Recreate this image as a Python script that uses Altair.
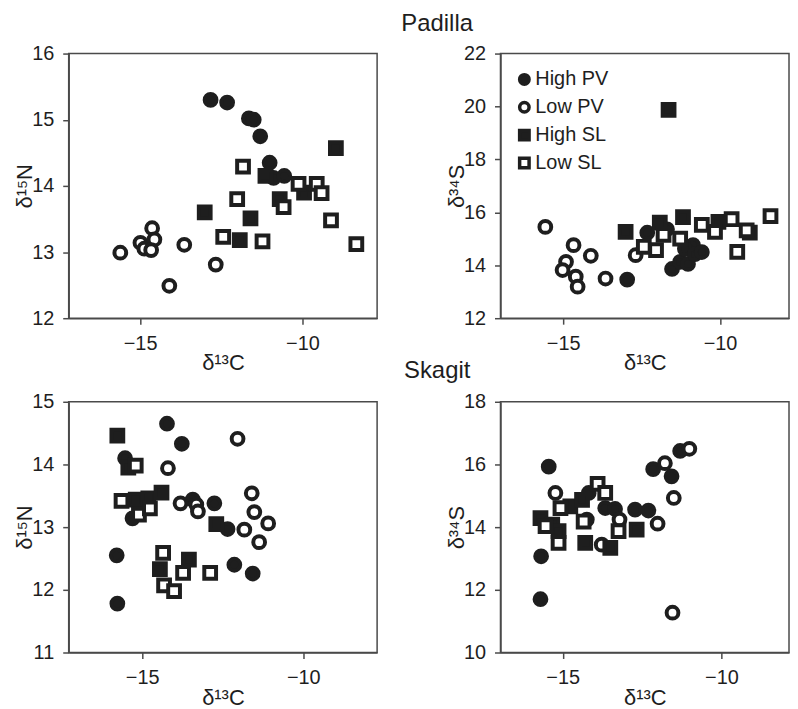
import altair as alt
import pandas as pd

INK = "#1e1e1e"
FRAME = "#4a4a4a"
FONT = "Liberation Sans"

GROUPS = ["High PV", "Low PV", "High SL", "Low SL"]
SHAPES = ["circle", "circle", "square", "square"]
FILLS = [INK, "white", INK, "white"]

# ---------------- Padilla: d15N vs d13C ----------------
pn_hpv_x = [-12.83, -12.32, -11.65, -11.50, -11.30, -11.01, -10.89, -10.56]
pn_hpv_y = [15.30, 15.26, 15.02, 15.00, 14.75, 14.35, 14.12, 14.15]
pn_lpv_x = [-15.61, -14.99, -14.87, -14.63, -14.56, -14.66, -13.64, -14.10, -12.67]
pn_lpv_y = [12.99, 13.14, 13.05, 13.36, 13.19, 13.03, 13.11, 12.49, 12.81]
pn_hsl_x = [-13.01, -11.60, -11.93, -11.14, -10.70, -9.95, -8.97]
pn_hsl_y = [13.60, 13.51, 13.18, 14.15, 13.80, 13.90, 14.57]
pn_lsl_x = [-11.83, -12.01, -12.44, -11.23, -10.58, -10.12, -9.56, -9.41, -9.12, -8.34]
pn_lsl_y = [14.29, 13.80, 13.23, 13.16, 13.68, 14.03, 14.03, 13.89, 13.48, 13.12]

# ---------------- Padilla: d34S vs d13C ----------------
ps_hpv_x = [-12.96, -12.32, -11.69, -11.53, -11.27, -11.02, -10.86, -11.12, -10.80, -10.58]
ps_hpv_y = [13.46, 15.23, 15.36, 13.86, 14.13, 14.05, 14.76, 14.62, 14.42, 14.50]
ps_lpv_x = [-15.57, -14.67, -14.12, -14.91, -15.02, -14.60, -14.54, -13.65, -12.69]
ps_lpv_y = [15.45, 14.76, 14.36, 14.13, 13.82, 13.57, 13.19, 13.50, 14.38]
ps_hsl_x = [-13.01, -11.64, -11.92, -11.18, -10.05, -9.05]
ps_hsl_y = [15.26, 19.87, 15.61, 15.82, 15.64, 15.23]
ps_lsl_x = [-12.43, -12.04, -11.80, -11.27, -10.58, -10.16, -9.63, -9.15, -9.45, -8.39]
ps_lsl_y = [14.70, 14.57, 15.15, 15.01, 15.53, 15.26, 15.74, 15.32, 14.51, 15.86]

# ---------------- Skagit: d15N vs d13C ----------------
sn_hpv_x = [-15.53, -14.23, -13.77, -15.30, -15.79, -15.77, -13.43, -12.76, -12.35, -12.14, -11.57]
sn_hpv_y = [14.10, 14.65, 14.33, 13.14, 12.55, 11.78, 13.44, 13.38, 12.97, 12.40, 12.26]
sn_lpv_x = [-12.04, -14.20, -13.81, -13.32, -13.27, -11.60, -11.52, -11.09, -11.83, -11.37]
sn_lpv_y = [14.41, 13.94, 13.38, 13.36, 13.25, 13.54, 13.24, 13.06, 12.96, 12.76]
sn_hsl_x = [-15.77, -15.43, -15.20, -14.81, -14.40, -14.45, -13.55, -12.70]
sn_hsl_y = [14.46, 13.95, 13.44, 13.46, 13.55, 12.33, 12.48, 13.05]
sn_lsl_x = [-15.20, -15.64, -15.10, -14.76, -14.35, -14.32, -14.01, -13.73, -12.89]
sn_lsl_y = [13.98, 13.42, 13.20, 13.30, 12.59, 12.07, 11.98, 12.27, 12.27]

# ---------------- Skagit: d34S vs d13C ----------------
ss_hpv_x = [-15.44, -15.68, -15.70, -14.18, -13.66, -13.35, -12.72, -12.30, -12.15, -11.57, -11.30]
ss_hpv_y = [15.93, 13.07, 11.70, 15.09, 14.61, 14.58, 14.56, 14.53, 15.85, 15.62, 16.43]
ss_lpv_x = [-15.23, -14.24, -13.77, -13.21, -12.01, -11.78, -11.50, -11.54, -11.01]
ss_lpv_y = [15.09, 14.24, 13.44, 14.24, 14.11, 16.04, 14.93, 11.27, 16.50]
ss_hsl_x = [-15.70, -15.33, -15.13, -14.76, -14.39, -14.29, -13.50, -12.67]
ss_hsl_y = [14.29, 14.08, 13.87, 14.66, 14.87, 13.50, 13.34, 13.92]
ss_lsl_x = [-15.54, -15.13, -15.07, -14.34, -13.90, -13.66, -13.24]
ss_lsl_y = [14.03, 13.50, 14.61, 14.18, 15.38, 15.09, 13.87]


def frame(series):
    rows = []
    for gi, (g, xs, ys) in enumerate(series):
        for x, y in zip(xs, ys):
            rows.append({"c": x, "v": y, "group": g, "ord": gi})
    return pd.DataFrame(rows)


def panel(df, xdom, ydom, yticks, ytitle, w, h, legend=None):
    return (
        alt.Chart(df)
        .mark_point(filled=True, strokeWidth=4, size=140, opacity=1)
        .encode(
            x=alt.X("c:Q", scale=alt.Scale(domain=xdom, nice=False, zero=False),
                    axis=alt.Axis(values=[-15, -10], title="δ¹³C")),
            y=alt.Y("v:Q", scale=alt.Scale(domain=ydom, nice=False, zero=False),
                    axis=alt.Axis(values=yticks, title=ytitle)),
            shape=alt.Shape("group:N", scale=alt.Scale(domain=GROUPS, range=SHAPES), legend=legend),
            fill=alt.Fill("group:N", scale=alt.Scale(domain=GROUPS, range=FILLS), legend=legend),
            stroke=alt.Stroke("group:N", scale=alt.Scale(domain=GROUPS, range=[INK] * 4), legend=legend),
            order=alt.Order("ord:Q"),
        )
        .properties(width=w, height=h)
    )


leg = alt.Legend(
    title=None, orient="none", legendX=14, legendY=16, padding=0,
    labelFontSize=20, labelFont=FONT, labelColor=INK, labelOffset=1,
    symbolSize=90, symbolStrokeWidth=3.5, symbolStrokeColor=INK, rowPadding=4,
)

tl = panel(frame([(GROUPS[0], pn_hpv_x, pn_hpv_y), (GROUPS[1], pn_lpv_x, pn_lpv_y),
                  (GROUPS[2], pn_hsl_x, pn_hsl_y), (GROUPS[3], pn_lsl_x, pn_lsl_y)]),
           [-17.2, -7.7], [12, 16], [12, 13, 14, 15, 16], "δ¹⁵N", 310, 266)
tr = panel(frame([(GROUPS[0], ps_hpv_x, ps_hpv_y), (GROUPS[1], ps_lpv_x, ps_lpv_y),
                  (GROUPS[2], ps_hsl_x, ps_hsl_y), (GROUPS[3], ps_lsl_x, ps_lsl_y)]),
           [-17.0, -7.8], [12, 22], [12, 14, 16, 18, 20, 22], "δ³⁴S", 290, 266, legend=leg)
bl = panel(frame([(GROUPS[0], sn_hpv_x, sn_hpv_y), (GROUPS[1], sn_lpv_x, sn_lpv_y),
                  (GROUPS[2], sn_hsl_x, sn_hsl_y), (GROUPS[3], sn_lsl_x, sn_lsl_y)]),
           [-17.28, -7.71], [11, 15], [11, 12, 13, 14, 15], "δ¹⁵N", 310, 252)
br = panel(frame([(GROUPS[0], ss_hpv_x, ss_hpv_y), (GROUPS[1], ss_lpv_x, ss_lpv_y),
                  (GROUPS[2], ss_hsl_x, ss_hsl_y), (GROUPS[3], ss_lsl_x, ss_lsl_y)]),
           [-16.96, -7.87], [10, 18], [10, 12, 14, 16, 18], "δ³⁴S", 290, 252)

RES_SCALE = dict(x="independent", y="independent", shape="independent",
                 fill="independent", stroke="independent")
RES_LEG = dict(shape="independent", fill="independent", stroke="independent")

top = (
    alt.hconcat(tl, tr, spacing=67)
    .resolve_scale(**RES_SCALE).resolve_legend(**RES_LEG)
    .properties(title=alt.TitleParams("Padilla", anchor="middle", fontSize=24, font=FONT,
                                      fontWeight="normal", color=INK, offset=7, dx=36))
)
bottom = (
    alt.hconcat(bl, br, spacing=67)
    .resolve_scale(**RES_SCALE).resolve_legend(**RES_LEG)
    .properties(title=alt.TitleParams("Skagit", anchor="middle", fontSize=24, font=FONT,
                                      fontWeight="normal", color=INK, offset=8, dx=36))
)

chart = (
    alt.vconcat(top, bottom, spacing=-16)
    .resolve_scale(**RES_SCALE).resolve_legend(**RES_LEG)
    .properties(padding={"left": 5, "top": 2, "right": 0, "bottom": 0})
    .configure(font=FONT)
    .configure_view(stroke=FRAME, strokeWidth=1.5)
    .configure_axis(
        grid=False, labelFont=FONT, titleFont=FONT, labelFontSize=20, titleFontSize=22,
        titleFontWeight="normal", labelColor=INK, titleColor=INK,
        domainColor=FRAME, domainWidth=1.5, tickColor=FRAME, tickWidth=1.5, tickSize=6,
        labelPadding=9,
    )
    .configure_axisY(titleBaseline="alphabetic", titlePadding=0)
    .configure_axisX(titlePadding=0)
)

chart.save("out.html", embed_options={"renderer": "svg", "actions": False})
